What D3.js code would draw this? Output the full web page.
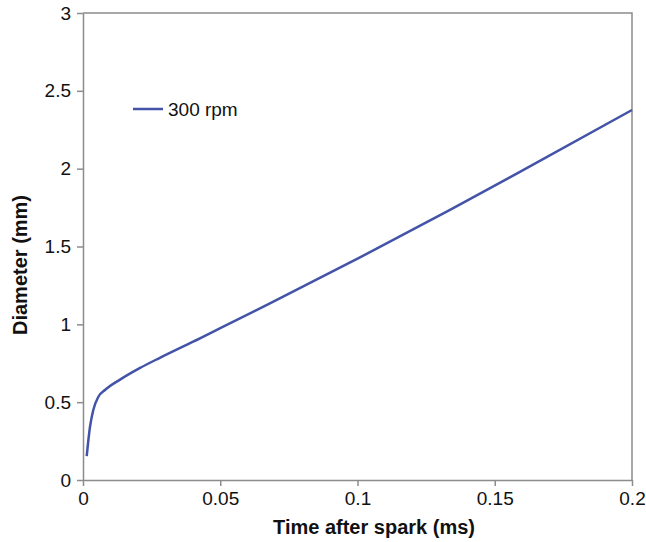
<!DOCTYPE html>
<html>
<head>
<meta charset="utf-8">
<script src="https://cdn.jsdelivr.net/npm/d3@7"></script>
<style>
  body { margin: 0; background: #fff; }
  svg { font-family: "Liberation Sans", Arial, sans-serif; }
  .axis path, .axis line { stroke: #8c8c8c; stroke-width: 1.5; }
  .axis text { font-size: 19px; fill: #111; }
  .title { font-size: 20px; font-weight: bold; fill: #111; }
</style>
</head>
<body>
<svg width="646" height="542"></svg>
<script>
// values
let times = [0.00135, 0.00255, 0.00375, 0.0056, 0.008, 0.0135, 0.0208, 0.028, 0.0426, 0.05, 0.0681, 0.1009, 0.1337, 0.159, 0.2];
let diameters = [0.154, 0.342, 0.45, 0.535, 0.578, 0.645, 0.72, 0.785, 0.91, 0.975, 1.135, 1.43, 1.735, 1.978, 2.377];
let xTicks = [0, 0.05, 0.1, 0.15, 0.2];
let yTicks = [0, 0.5, 1, 1.5, 2, 2.5, 3];
let seriesName = '300 rpm';

let data = times.map((t, i) => ({t: t, d: diameters[i]}));

let svg = d3.select('svg');
let margin = {top: 13, right: 14, bottom: 62, left: 83},
  width = +svg.attr('width') - margin.left - margin.right,
  height = +svg.attr('height') - margin.top - margin.bottom;

let xScale = d3.scaleLinear().domain([0, 0.2]).range([0, width]);
let yScale = d3.scaleLinear().domain([0, 3]).range([height, 0]);

let g = svg.append('g')
  .attr('transform', `translate(${margin.left},${margin.top})`);

// frame (top + right)
g.append('path')
  .attr('d', `M0,0H${width}V${height}`)
  .attr('fill', 'none')
  .attr('stroke', '#8c8c8c')
  .attr('stroke-width', 1.5);

// x axis
g.append('g')
  .attr('class', 'axis')
  .attr('transform', `translate(0,${height})`)
  .call(d3.axisBottom(xScale).tickValues(xTicks).tickFormat(d3.format('')).tickSize(6).tickSizeOuter(0).tickPadding(6));

// y axis
g.append('g')
  .attr('class', 'axis')
  .call(d3.axisLeft(yScale).tickValues(yTicks).tickFormat(d3.format('')).tickSize(6).tickSizeOuter(0).tickPadding(6));

// line
let line = d3.line()
  .x(d => xScale(d.t))
  .y(d => yScale(d.d))
  .curve(d3.curveMonotoneX);

g.append('path')
  .datum(data)
  .attr('fill', 'none')
  .attr('stroke', '#4354a8')
  .attr('stroke-width', 2.5)
  .attr('d', line);

// legend
svg.append('line')
  .attr('x1', 133).attr('x2', 163)
  .attr('y1', 109).attr('y2', 109)
  .attr('stroke', '#4354a8')
  .attr('stroke-width', 2.5);
svg.append('text')
  .attr('x', 168).attr('y', 116)
  .attr('font-size', 19)
  .attr('fill', '#111')
  .text(seriesName);

// axis titles
svg.append('text')
  .attr('class', 'title')
  .attr('x', 374).attr('y', 534)
  .attr('text-anchor', 'middle')
  .text('Time after spark (ms)');
svg.append('text')
  .attr('class', 'title')
  .attr('transform', 'translate(27,265) rotate(-90)')
  .attr('text-anchor', 'middle')
  .text('Diameter (mm)');
</script>
</body>
</html>
